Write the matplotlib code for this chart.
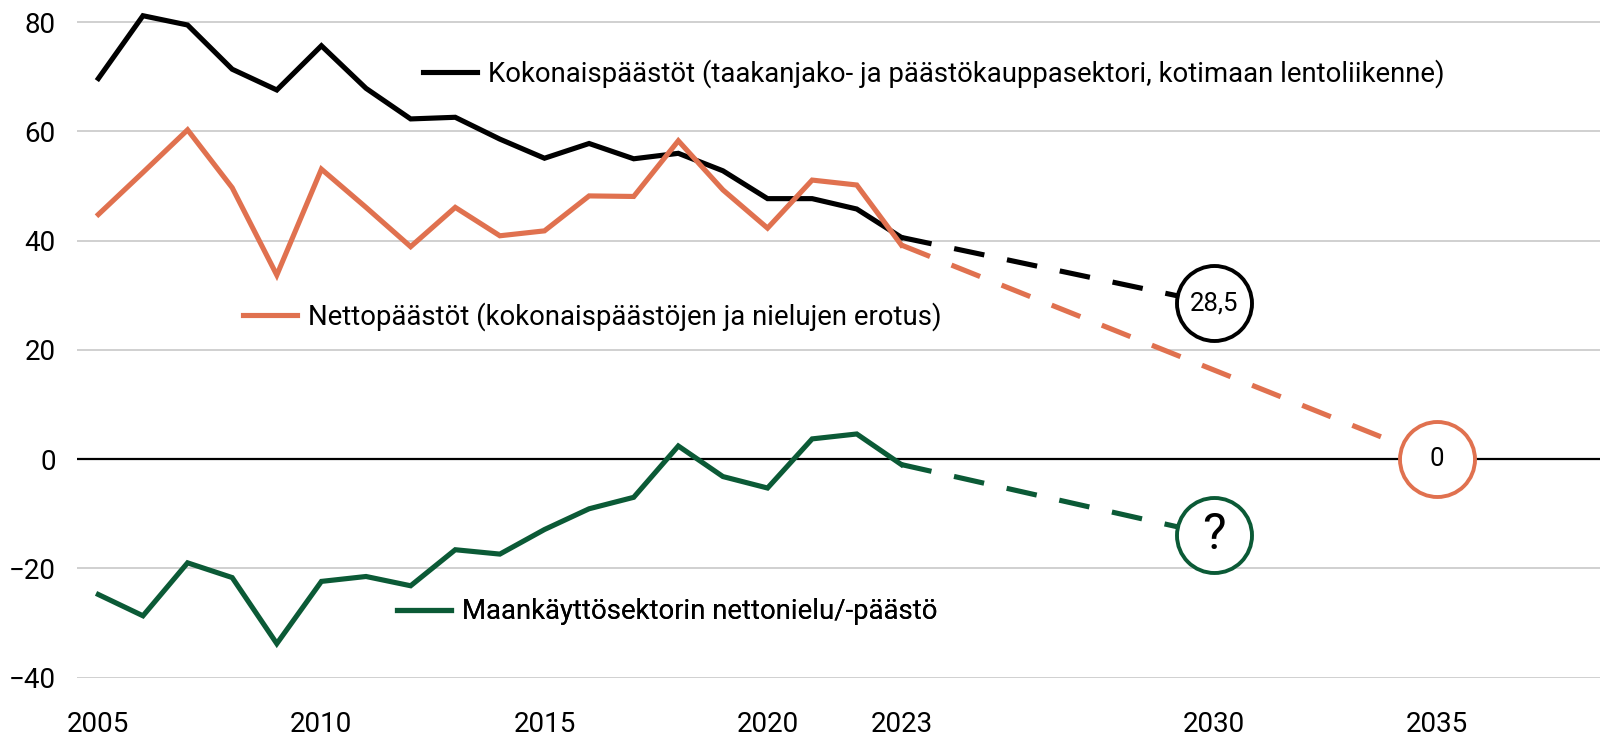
import matplotlib
matplotlib.use("Agg")
import matplotlib.pyplot as plt

plt.rcParams["font.family"] = ["Roboto", "DejaVu Sans"]

# historical series
years = list(range(2005, 2024))
total = [69.7, 81.2, 79.5, 71.4, 67.6, 75.7, 67.9, 62.3, 62.6, 58.6, 55.1, 57.8,
         55.0, 56.0, 52.8, 47.7, 47.7, 45.8, 40.6]
net = [44.8, 52.5, 60.3, 49.7, 33.7, 53.1, 46.1, 38.9, 46.1, 40.9, 41.8, 48.2,
       48.1, 58.3, 49.3, 42.3, 51.1, 50.2, 39.2]
lulucf = [-24.8, -28.7, -19.0, -21.7, -33.8, -22.4, -21.5, -23.2, -16.6, -17.4, -12.9, -9.1,
          -7.0, 2.4, -3.2, -5.3, 3.7, 4.6, -1.0]

# targets (dashed)
total_proj_x = [2023, 2030]
total_proj_y = [40.6, 28.5]
net_proj_x = [2023, 2035]
net_proj_y = [39.2, 0]
lulucf_proj_x = [2023, 2030]
lulucf_proj_y = [-1.0, -13.9]

target_labels = ["28,5", "0", "?"]

labels = [
    "Kokonaispäästöt (taakanjako- ja päästökauppasektori, kotimaan lentoliikenne)",
    "Nettopäästöt (kokonaispäästöjen ja nielujen erotus)",
    "Maankäyttösektorin nettonielu/-päästö",
]

BLACK = "#000000"
ORANGE = "#E0714F"
GREEN = "#0B5A36"

xticks = [2005, 2010, 2015, 2020, 2023, 2030, 2035]
yticks = [-40, -20, 0, 20, 40, 60, 80]

fig = plt.figure(figsize=(16, 7.4), dpi=100)
ax = fig.add_axes([76.5 / 1600, 62.5 / 740, 1 - 76.5 / 1600, 677.5 / 740])

lw = 3.7
dash = (6, 4.5)

ax.axhline(0, color="black", lw=1.6, zorder=2)

h1, = ax.plot(years, total, color=BLACK, lw=lw, solid_joinstyle="miter", zorder=3)
h2, = ax.plot(years, net, color=ORANGE, lw=lw, solid_joinstyle="miter", zorder=4)
h3, = ax.plot(years, lulucf, color=GREEN, lw=lw, solid_joinstyle="miter", zorder=5)

ax.plot(total_proj_x, total_proj_y, color=BLACK, lw=lw, dashes=dash, zorder=3)
ax.plot(net_proj_x, net_proj_y, color=ORANGE, lw=lw, dashes=dash, zorder=4)
ax.plot(lulucf_proj_x, lulucf_proj_y, color=GREEN, lw=lw, dashes=dash, zorder=5)

ends = [
    (total_proj_x[-1], total_proj_y[-1], BLACK, target_labels[0], 18.5),
    (net_proj_x[-1], net_proj_y[-1], ORANGE, target_labels[1], 18.5),
    (lulucf_proj_x[-1], lulucf_proj_y[-1], GREEN, target_labels[2], 36),
]
for x, y, c, t, fs in ends:
    ax.plot([x], [y], marker="o", ms=54, mfc="white", mec=c, mew=2.8, zorder=6)
    ax.text(x, y, t, ha="center", va="center", fontsize=fs, zorder=7)

ax.set_xlim(2004.51, 2038.66)
ax.set_ylim(-40, 84.08)
ax.set_xticks(xticks)
ax.set_yticks(yticks)
ax.tick_params(axis="both", length=0, labelsize=20)
ax.tick_params(axis="x", pad=24)
ax.tick_params(axis="y", pad=15)
ax.grid(axis="y", color="#d0d0d0", lw=1.4)
ax.set_axisbelow(True)
for s in ax.spines.values():
    s.set_visible(False)

leg_pos = [(0.2274, 0.8918), (0.1093, 0.5321), (0.2104, 0.0967)]
for h, lab, pos in zip([h1, h2, h3], labels, leg_pos):
    leg = ax.legend([h], [lab], loc="center left", bbox_to_anchor=pos, frameon=False,
                    fontsize=19.8, handlelength=1.95, handletextpad=0.42,
                    borderpad=0, borderaxespad=0)
    ax.add_artist(leg)

fig.savefig("out.png", dpi=100)
